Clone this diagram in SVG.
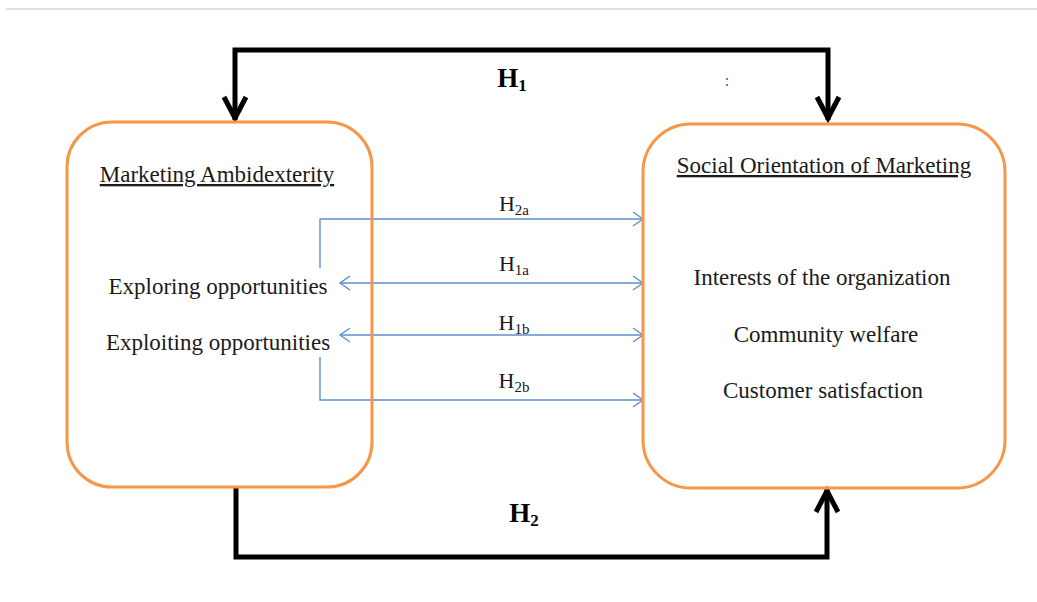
<svg xmlns="http://www.w3.org/2000/svg" width="1037" height="602" viewBox="0 0 1037 602">
<style>
.box{fill:none;stroke:#F79646;stroke-width:3}
.t{font-family:"Liberation Serif","Times New Roman",serif;font-size:23px;fill:#1a1a1a;text-anchor:middle}
.u{text-decoration:underline}
.big{font-family:"Liberation Serif","Times New Roman",serif;font-size:27px;font-weight:bold;fill:#000;text-anchor:middle}
.lab{font-family:"Liberation Serif","Times New Roman",serif;font-size:22px;fill:#1a1a1a;text-anchor:middle}
.blk{fill:none;stroke:#000;stroke-width:5;stroke-linejoin:miter}
.blu{fill:none;stroke:#5F8FCB;stroke-width:1.4}
</style>
<defs>
<marker id="ah" markerUnits="userSpaceOnUse" viewBox="-30 -20 40 40" markerWidth="40" markerHeight="40" refX="0" refY="0" orient="auto-start-reverse" overflow="visible">
<path d="M-23,-11 L-2,0 L-23,11" fill="none" stroke="#000" stroke-width="5"/>
</marker>
<marker id="bh" markerUnits="userSpaceOnUse" viewBox="-15 -10 20 20" markerWidth="20" markerHeight="20" refX="0" refY="0" orient="auto-start-reverse" overflow="visible">
<path d="M-10,-7 L0,0 L-10,7" fill="none" stroke="#5F8FCB" stroke-width="1.4"/>
</marker>
</defs>
<rect width="1037" height="602" fill="#fff"/>
<line x1="6" y1="9" x2="1037" y2="9" stroke="#e2e2e2" stroke-width="2"/>
<g id="connectors">
<path class="blk" d="M235,120 V50 H828 V120" marker-start="url(#ah)" marker-end="url(#ah)"/>
<path class="blk" d="M236,487 V557 H827 V489" marker-end="url(#ah)"/>
<path class="blu" d="M320,268 V219 H643" marker-end="url(#bh)"/>
<path class="blu" d="M340,283 H643" marker-start="url(#bh)" marker-end="url(#bh)"/>
<path class="blu" d="M340,335 H643" marker-start="url(#bh)" marker-end="url(#bh)"/>
<path class="blu" d="M320,357 V400 H643" marker-end="url(#bh)"/>
<text class="big" x="512" y="87">H<tspan font-size="17" dy="4">1</tspan></text>
<text x="727" y="86" font-family="Liberation Serif, serif" font-size="16" fill="#555" text-anchor="middle">:</text>
<text class="big" x="524" y="522">H<tspan font-size="17" dy="4">2</tspan></text>
<text class="lab" x="514" y="211">H<tspan font-size="15" dy="4">2a</tspan></text>
<text class="lab" x="514" y="271">H<tspan font-size="15" dy="4">1a</tspan></text>
<text class="lab" x="514" y="330">H<tspan font-size="15" dy="4">1b</tspan></text>
<text class="lab" x="514" y="388">H<tspan font-size="15" dy="4">2b</tspan></text>
</g>
<g id="node-ambidexterity">
<rect class="box" x="67" y="122" width="305" height="365" rx="45" ry="45"/>
<text class="t u" x="217" y="182">Marketing Ambidexterity</text>
<text class="t" x="218" y="294">Exploring opportunities</text>
<text class="t" x="218" y="350">Exploiting opportunities</text>
</g>
<g id="node-social">
<rect class="box" x="643" y="124" width="362" height="364" rx="48" ry="48"/>
<text class="t u" x="824" y="173">Social Orientation of Marketing</text>
<text class="t" x="822" y="285">Interests of the organization</text>
<text class="t" x="826" y="342">Community welfare</text>
<text class="t" x="823" y="398">Customer satisfaction</text>
</g>
</svg>
